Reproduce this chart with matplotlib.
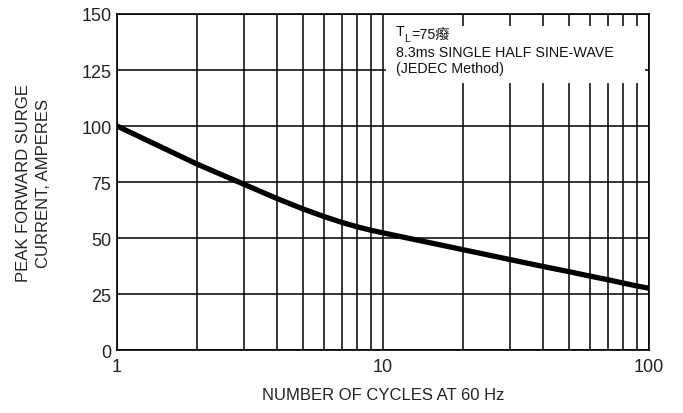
import matplotlib.pyplot as plt
from matplotlib.patches import Rectangle

plt.rcParams["font.family"] = ["Liberation Sans", "Noto Sans CJK SC", "DejaVu Sans"]

# Surge curve
cycles = [1, 2, 3, 4, 5, 6, 7, 8, 9, 10, 20, 30, 40, 50, 60, 70, 80, 90, 100]
current = [100, 83.0, 74.0, 67.6, 63.0, 59.6, 57.0, 55.0, 53.5, 52.3,
           44.8, 40.4, 37.3, 35.0, 33.0, 31.4, 29.9, 28.6, 27.6]

y_ticks = [0, 25, 50, 75, 100, 125, 150]
x_ticks = [1, 10, 100]
note_t = ("T", "L", "=75癈")
note_lines = ["8.3ms SINGLE HALF SINE-WAVE", "(JEDEC Method)"]

fig = plt.figure(figsize=(6.83, 4.14), dpi=100)
ax = fig.add_axes([0.1713, 0.152, 0.779, 0.8118])

ax.set_xscale("log")
ax.set_xlim(1, 100)
ax.set_ylim(0, 150)

ax.set_xticks(x_ticks)
ax.set_xticklabels([str(v) for v in x_ticks])
ax.set_yticks(y_ticks)
ax.set_yticklabels([str(v) for v in y_ticks])
ax.tick_params(axis="both", which="both", length=0, labelsize=13,
               labelcolor="#222222", pad=4)
ax.tick_params(axis="x", pad=6)

# black grid, minor lines on x, majors on y
ax.set_axisbelow(True)
ax.xaxis.grid(True, which="minor", color="black", linewidth=1.1)
ax.xaxis.grid(True, which="major", color="black", linewidth=1.1)
ax.yaxis.grid(True, which="major", color="black", linewidth=1.1)
for sp in ax.spines.values():
    sp.set_linewidth(1.2)
    sp.set_color("black")

# white box hiding the grid behind the note
ax.add_patch(Rectangle((10.3, 119.3), 96.4 - 10.3, 25.4, facecolor="white",
                       edgecolor="none", zorder=1))

ax.plot(cycles, current, color="black", linewidth=3.8, zorder=3,
        solid_capstyle="butt")

# note: T with subscript L, then two plain lines
fs = 10.3
t0 = ax.text(0.524, 0.938, note_t[0], transform=ax.transAxes, fontsize=fs,
             va="baseline", ha="left", color="#111111", zorder=4)
ax.annotate(note_t[1], xy=(1, 0), xycoords=t0, xytext=(0, -2),
            textcoords="offset points", fontsize=fs * 0.75,
            va="baseline", ha="left", color="#111111", zorder=4)
ax.annotate(note_t[2], xy=(1, 0), xycoords=t0, xytext=(fs * 0.48, 0),
            textcoords="offset points", fontsize=fs,
            va="baseline", ha="left", color="#111111", zorder=4)
for txt, yb in zip(note_lines, [0.876, 0.828]):
    ax.text(0.524, yb, txt, transform=ax.transAxes, fontsize=fs,
            va="baseline", ha="left", color="#111111", zorder=4)

ax.set_xlabel("NUMBER OF CYCLES AT 60 Hz", fontsize=12, color="#222222",
              labelpad=8)
ax.set_ylabel("PEAK FORWARD SURGE\nCURRENT, AMPERES", fontsize=12,
              color="#222222", labelpad=22, linespacing=1.4)

fig.savefig("out.png", dpi=100)
